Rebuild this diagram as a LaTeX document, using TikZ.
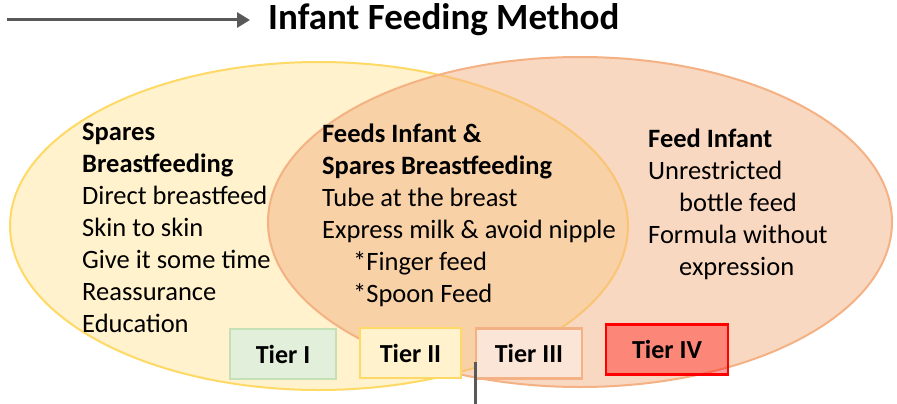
\documentclass[tikz,border=0pt]{standalone}
\usepackage{fontspec}
\setmainfont{Carlito}
\usetikzlibrary{arrows.meta,positioning}
\definecolor{spfill}{HTML}{FFF2CC}
\definecolor{spline}{HTML}{FFD966}
\definecolor{fdline}{HTML}{F4B183}
\definecolor{tierone}{HTML}{E2EFDA}
\definecolor{tieroneline}{HTML}{C5E0B4}
\definecolor{tierthree}{HTML}{FBE5D6}
\definecolor{arrowgray}{HTML}{595959}
\begin{document}
\begin{tikzpicture}[x=1pt,y=-1pt,
  block/.style={anchor=base west,inner sep=0pt,align=left,font=\fontsize{26.5}{32}\selectfont},
  tier/.style={draw,line width=2.5pt,minimum width=106pt,minimum height=50pt,inner sep=0pt,
    font=\fontsize{26}{30}\selectfont\bfseries},
  rule/.style={arrowgray,line width=3pt}]
\useasboundingbox (0,0) rectangle (897,404);
\fill[spfill] (319,226) ellipse [x radius=309,y radius=164];
\draw[spline,line width=2pt] (319,226) ellipse [x radius=309,y radius=164];
\filldraw[fdline,line width=2pt,fill opacity=0.5] (580,222) ellipse [x radius=312,y radius=165];
\node (title) [anchor=base west,inner sep=0pt,font=\fontsize{37}{42}\selectfont\bfseries] at (268,30) {Infant Feeding Method};
\coordinate (arrowstart) at (7,20);
\draw[rule,-{Triangle[length=13pt,width=15pt]}] (arrowstart) -- (title.west |- arrowstart) [shorten >=18pt];
\node (spares) [block] at (82,332) {\textbf{Spares}\\\textbf{Breastfeeding}\\Direct breastfeed\\Skin to skin\\Give it some time\\Reassurance\\Education};
\node (both) [block] at (322,302) {\textbf{Feeds Infant \&}\\\textbf{Spares Breastfeeding}\\Tube at the breast\\Express milk \& avoid nipple\\\hspace*{31pt}*Finger feed\\\hspace*{31pt}*Spoon Feed};
\node (feeds) [block] at (648,275) {\textbf{Feed Infant}\\Unrestricted\\\hspace*{31pt}bottle feed\\Formula without\\\hspace*{31pt}expression};
\node (tierI) [tier,draw=tieroneline,fill=tierone,minimum width=106pt] at (283,354) {Tier I};
\node (tierII) [tier,draw=spline,fill=spfill,minimum width=101pt] at (410.5,353) {Tier II};
\node (tierIII) [tier,draw=fdline,fill=tierthree,minimum width=106pt] at (529,353.5) {Tier III};
\node (tierIV) [tier,draw=red,fill=red,fill opacity=0.38,text opacity=1,draw opacity=1,minimum width=122pt] at (667,349.5) {Tier IV};
\coordinate (stem) at (475,404);
\draw[rule] (stem) -- (stem |- 0,362);
\end{tikzpicture}
\end{document}
